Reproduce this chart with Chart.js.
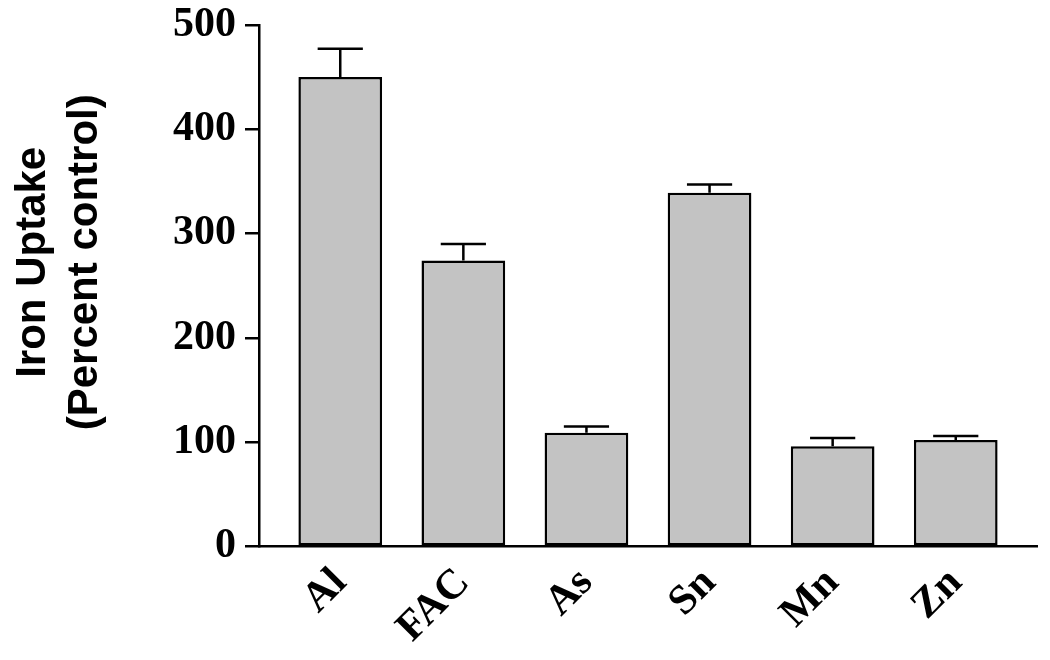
<!DOCTYPE html>
<html>
<head>
<meta charset="utf-8">
<script src="https://cdn.jsdelivr.net/npm/chart.js@4/dist/chart.umd.min.js"></script>
<style>
 html,body{margin:0;padding:0;background:#fff;}
 #wrap{width:1050px;height:660px;}
</style>
</head>
<body>
<div id="wrap"><canvas id="c" width="1050" height="660"></canvas></div>
<script>
const labels=["Al","FAC","As","Sn","Mn","Zn"];
const uptake=[450,274,109,339,96,102];
const sem=[27,16,6,8,8,4];
const yTicks=[0,100,200,300,400,500];

const serif="'Liberation Serif','Times New Roman',serif";
const sans="'Liberation Sans',Arial,sans-serif";
const pad="\u00a0\u00a0\u00a0\u00a0"; // leading spaces nudge the axis title up

// error bars drawn through the scales, upper half only
const errorBars={
 id:"errorBars",
 afterDatasetsDraw(chart){
   const ctx=chart.ctx,xs=chart.scales.x,ys=chart.scales.y;
   const meta=chart.getDatasetMeta(0);
   ctx.save();
   ctx.strokeStyle="#000";
   ctx.lineWidth=2.5;
   uptake.forEach((v,i)=>{
     const x=xs.getPixelForValue(i);
     const y0=ys.getPixelForValue(v);
     const y1=ys.getPixelForValue(v+sem[i]);
     const half=meta.data[i].width*0.27;
     ctx.beginPath();
     ctx.moveTo(x,y0);ctx.lineTo(x,y1);
     ctx.moveTo(x-half,y1);ctx.lineTo(x+half,y1);
     ctx.stroke();
   });
   ctx.restore();
 }
};

new Chart(document.getElementById("c"),{
 type:"bar",
 data:{
   datasets:[{
     data:uptake.map((v,i)=>({x:i,y:v})),
     backgroundColor:"#c3c3c3",
     borderColor:"#000",
     borderWidth:2.5,
     borderSkipped:false,
     categoryPercentage:1,
     barPercentage:0.68
   }]
 },
 options:{
   responsive:false,
   animation:false,
   layout:{padding:{top:0,right:13,bottom:3,left:7}},
   plugins:{legend:{display:false},tooltip:{enabled:false}},
   scales:{
     x:{
       type:"linear",
       offset:false,
       min:-0.66,max:labels.length-1+0.66,
       grid:{display:false},
       border:{display:true,color:"#000",width:2.5},
       ticks:{
         stepSize:1,includeBounds:false,autoSkip:false,
         maxRotation:45,minRotation:45,
         color:"#000",padding:4,
         font:{family:serif,size:42,weight:"bold"},
         callback:v=>Number.isInteger(v)?labels[v]:""
       }
     },
     y:{
       min:0,max:500,
       afterBuildTicks:s=>{s.ticks=yTicks.map(v=>({value:v}));},
       grid:{display:true,drawOnChartArea:false,color:"#000",lineWidth:2.5,tickLength:14},
       border:{display:true,color:"#000",width:2.5},
       ticks:{color:"#000",padding:9,font:{family:serif,size:42,weight:"bold",lineHeight:0.75}},
       title:{
         display:true,
         text:[pad+"Iron Uptake",pad+"(Percent control)"],
         color:"#000",
         font:{family:sans,size:42,weight:"bold",lineHeight:1.25},
         padding:{top:0,bottom:52}
       }
     }
   }
 },
 plugins:[errorBars]
});
</script>
</body>
</html>
